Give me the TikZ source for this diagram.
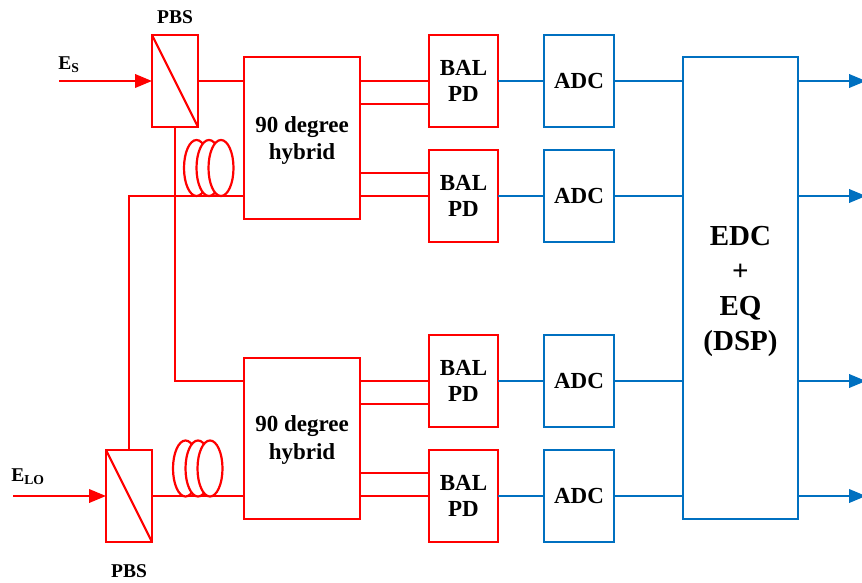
\documentclass[tikz,border=0pt]{standalone}
\usepackage{fontspec}
\setmainfont{Liberation Serif}
\usepackage{tikz}
\usetikzlibrary{positioning,arrows.meta,shapes.geometric}
\definecolor{linkred}{HTML}{FF0000}
\definecolor{linkblue}{HTML}{0070C0}
\tikzset{
  redbox/.style={draw=linkred,line width=2.2pt,outer sep=0pt,inner sep=0pt,align=center,font=\fontsize{23}{26.5}\selectfont\bfseries},
  bluebox/.style={draw=linkblue,line width=2.2pt,outer sep=0pt,inner sep=0pt,align=center,font=\fontsize{23}{27}\selectfont\bfseries},
  pbsbox/.style={redbox,minimum width=46pt,minimum height=92pt},
  hybbox/.style={redbox,minimum width=116pt,minimum height=161pt},
  balbox/.style={redbox,minimum width=69pt,minimum height=92pt},
  adcbox/.style={bluebox,minimum width=70pt,minimum height=92pt},
  coil/.style={ellipse,draw=linkred,line width=2.2pt,fill=white,minimum width=25pt,minimum height=56pt,inner sep=0pt,outer sep=0pt},
  redline/.style={draw=linkred,line width=2.2pt},
  blueline/.style={draw=linkblue,line width=2.2pt},
  smalllabel/.style={inner sep=0pt,font=\fontsize{19.5}{22}\selectfont\bfseries},
  hybtext/.style={inner sep=0pt,align=center,font=\fontsize{23}{27.5}\selectfont\bfseries},
  edctext/.style={inner sep=0pt,align=center,font=\fontsize{29}{35}\selectfont\bfseries}
}
\begin{document}
\begin{tikzpicture}[x=1pt,y=-1pt,>={Triangle[length=17pt,width=13.5pt]},node distance=46pt]
\useasboundingbox (0,0) rectangle (862,583);
\node[pbsbox] (pbs1) at (175,81) {};
\node[pbsbox] (pbs2) at (129,496) {};
\node[hybbox,minimum height=162pt] (hyb1) at (302,138) {};
\node[hybbox] (hyb2) at (302,438.5) {};
\node[hybtext] (hyb1text) at ([yshift=-2.5pt]hyb1.center) {90 degree\\hybrid};
\node[hybtext] (hyb2text) at ([yshift=-1.5pt]hyb2.center) {90 degree\\hybrid};
\node[balbox] (bal1) at (463.5,81) {BAL\\PD};
\node[balbox] (bal2) at (463.5,196) {BAL\\PD};
\node[balbox] (bal3) at (463.5,381) {BAL\\PD};
\node[balbox] (bal4) at (463.5,496) {BAL\\PD};
\node[adcbox] (adc1) [right=of bal1] {ADC};
\node[adcbox] (adc2) [right=of bal2] {ADC};
\node[adcbox] (adc3) [right=of bal3] {ADC};
\node[adcbox] (adc4) [right=of bal4] {ADC};
\node[bluebox,minimum width=115pt,minimum height=462pt] (edc) at (740.5,288) {};
\node[edctext] (edctxt) at ([yshift=-3.5pt]edc.center) {EDC\\+\\EQ\\(DSP)};
\node[smalllabel] (pbs1label) at (175,17) {PBS};
\node[smalllabel] (pbs2label) at (129,571) {PBS};
\node[smalllabel] (eslabel) at (69,64.5) {E\textsubscript{S}};
\node[smalllabel] (elolabel) at (28,476.5) {E\textsubscript{LO}};
\coordinate (esin) at (59,81);
\coordinate (eloin) at (13,496);
\coordinate (out1) at (866,81);
\coordinate (out2) at (866,196);
\coordinate (out3) at (866,381);
\coordinate (out4) at (866,496);
\draw[redline] (pbs1.north west) -- (pbs1.south east);
\draw[redline] (pbs2.north west) -- (pbs2.south east);
\draw[redline,->] (esin) -- (pbs1.west);
\draw[redline,->] (eloin) -- (pbs2.west);
\draw[redline] (pbs1.east) -- (pbs1.east -| hyb1.west);
\draw[redline] (pbs2.east) -- (pbs2.east -| hyb2.west);
\draw[redline] (pbs2.north) |- (bal2.west -| hyb1.west);
\draw[redline] (pbs1.south) |- (bal3.west -| hyb2.west);
\draw[redline] (bal1.west) -- (bal1.west -| hyb1.east);
\draw[redline] ([yshift=-23pt]bal1.west) -- ([yshift=-23pt]bal1.west -| hyb1.east);
\draw[redline] ([yshift=23pt]bal2.west) -- ([yshift=23pt]bal2.west -| hyb1.east);
\draw[redline] (bal2.west) -- (bal2.west -| hyb1.east);
\draw[redline] (bal3.west) -- (bal3.west -| hyb2.east);
\draw[redline] ([yshift=-23pt]bal3.west) -- ([yshift=-23pt]bal3.west -| hyb2.east);
\draw[redline] ([yshift=23pt]bal4.west) -- ([yshift=23pt]bal4.west -| hyb2.east);
\draw[redline] (bal4.west) -- (bal4.west -| hyb2.east);
\foreach \n/\cx in {a/196.5,b/209,c/221} \node[coil] (coil1\n) at (\cx,168) {};
\foreach \n/\cx in {a/185.5,b/198,c/210} \node[coil] (coil2\n) at (\cx,468.5) {};
\foreach \i in {1,2,3,4} {
  \draw[blueline] (bal\i.east) -- (adc\i.west);
  \draw[blueline] (adc\i.east) -- (adc\i.east -| edc.west);
  \draw[blueline,->] (adc\i.east -| edc.east) -- (out\i);
}
\end{tikzpicture}
\end{document}
